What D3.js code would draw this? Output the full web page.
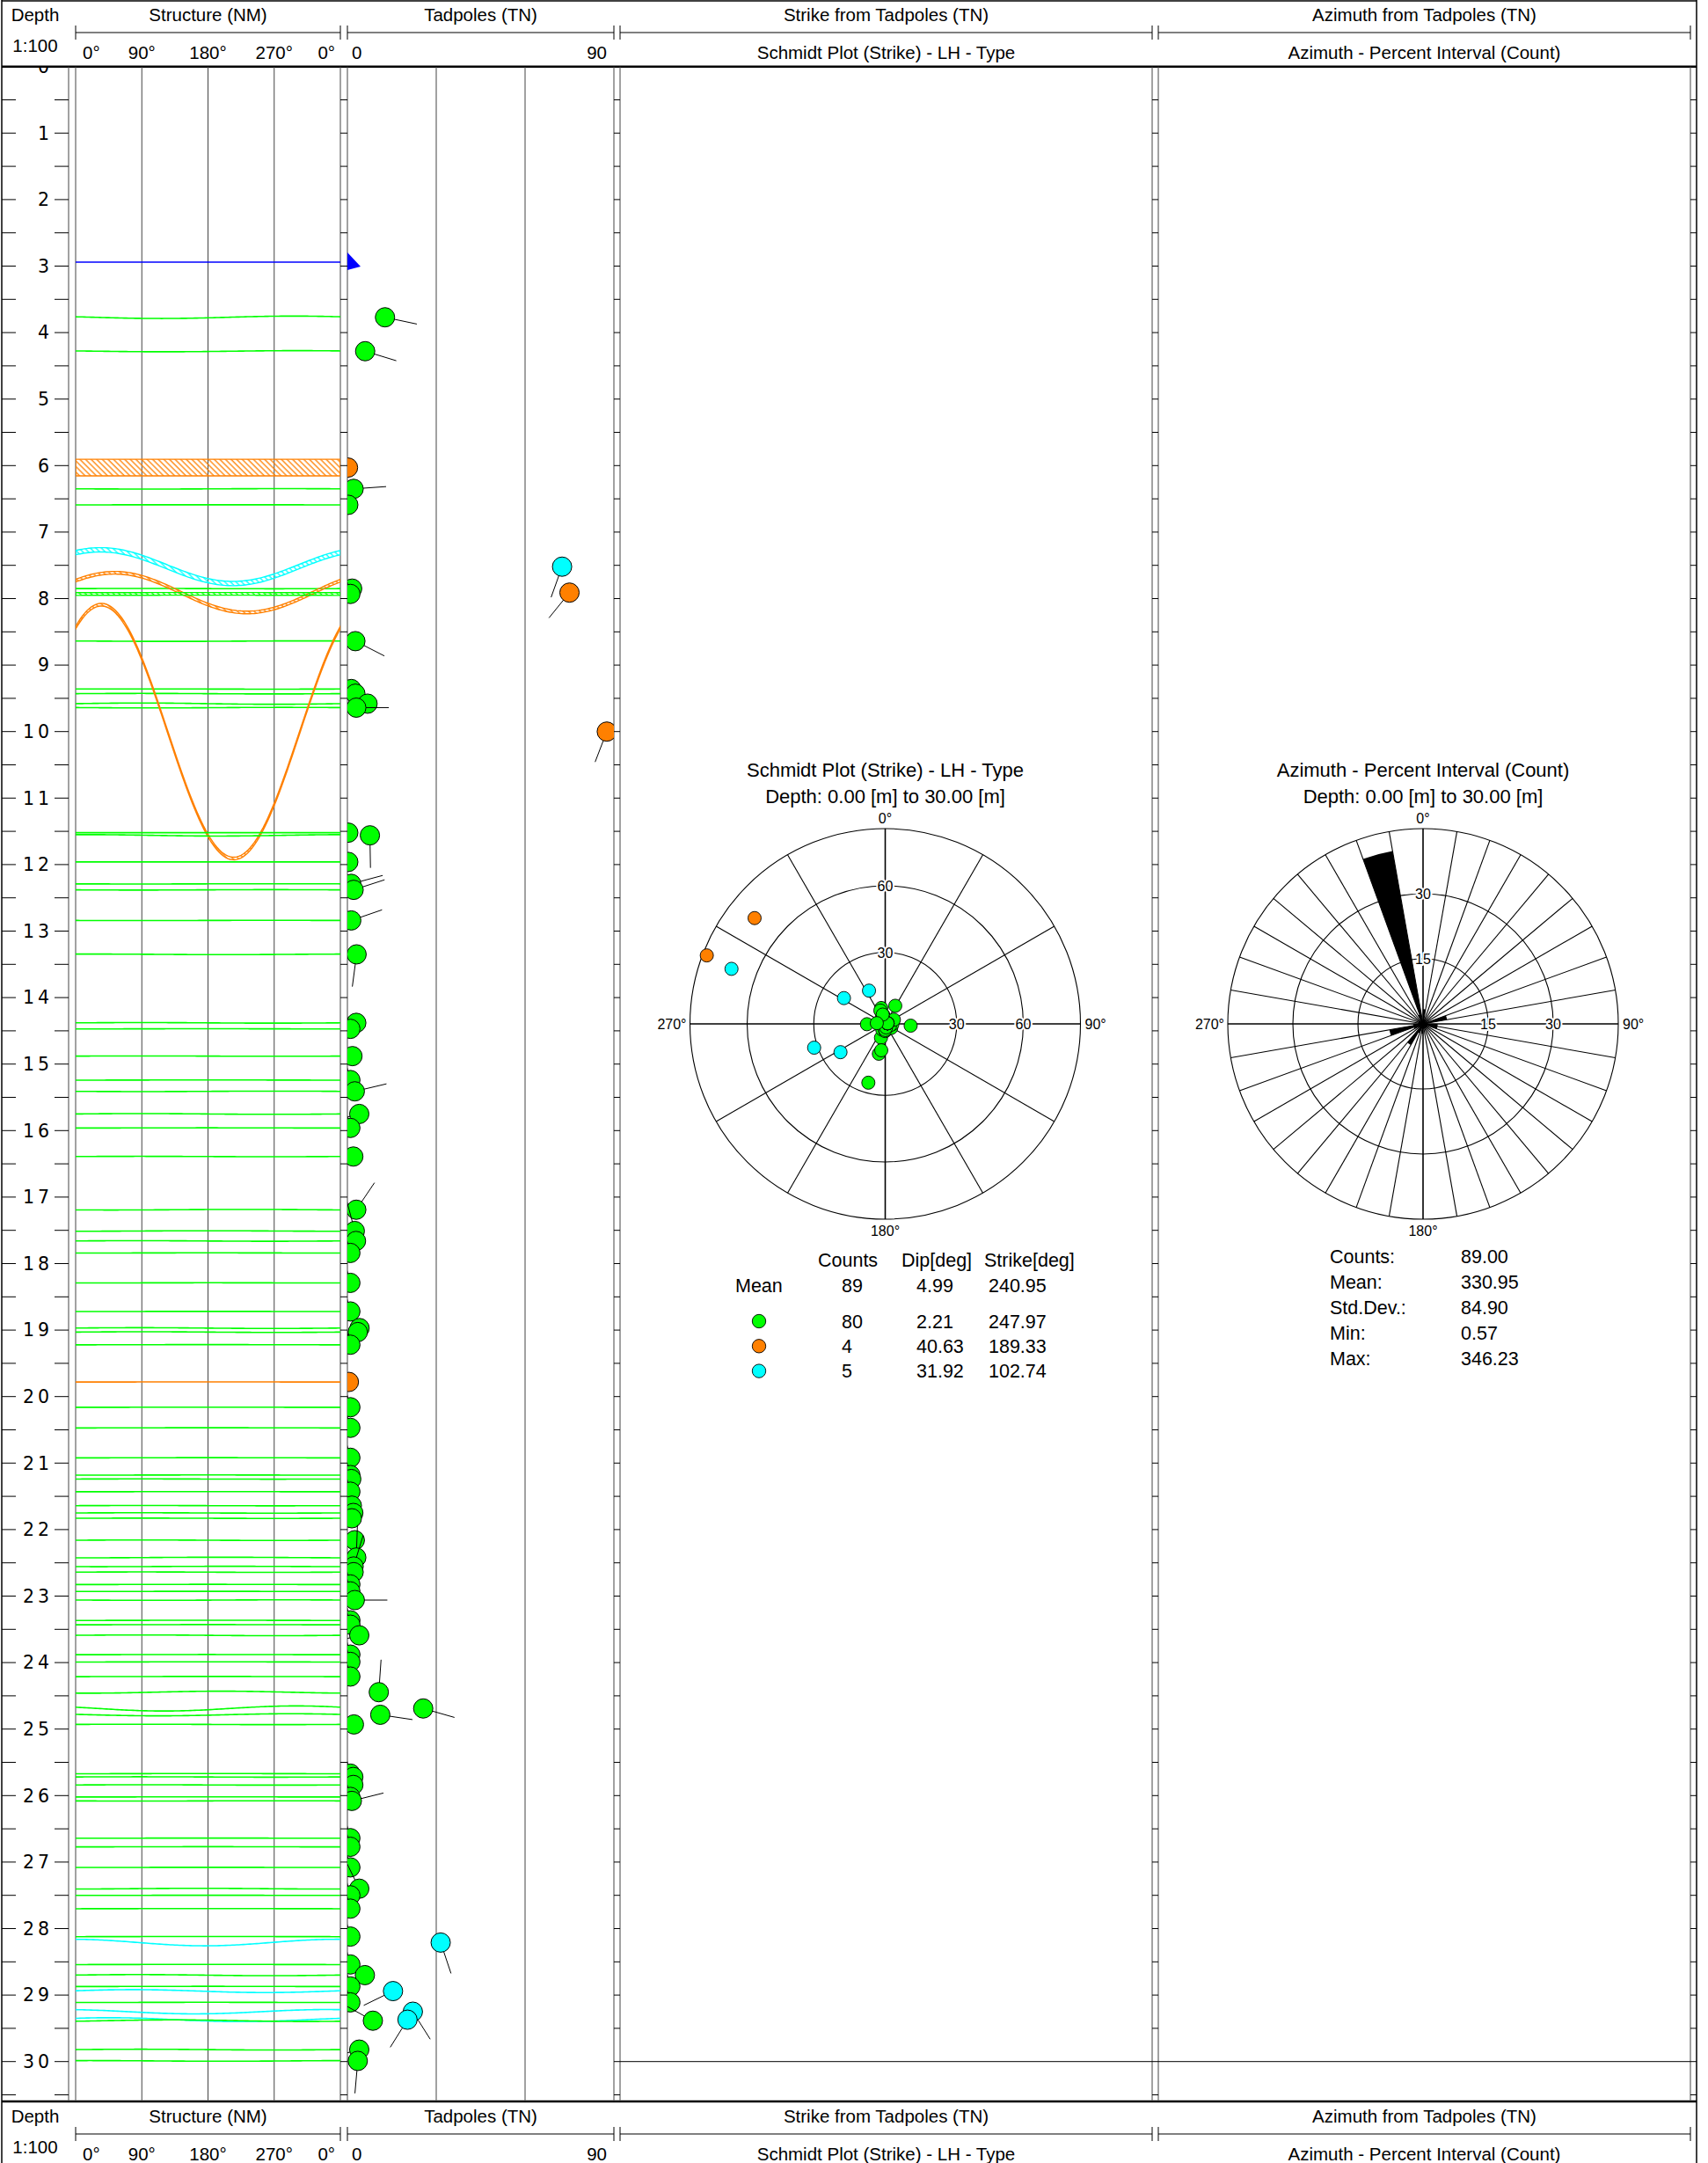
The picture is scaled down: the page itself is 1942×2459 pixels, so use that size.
<!DOCTYPE html>
<html>
<head>
<meta charset="utf-8">
<script src="https://cdn.jsdelivr.net/npm/d3@7/dist/d3.min.js"></script>
<style>
html,body{margin:0;padding:0;background:#fff;}
text{font-family:"Liberation Sans",Arial,sans-serif;fill:#000;}
</style>
</head>
<body>
<svg id="chart" width="1942" height="2459" xmlns="http://www.w3.org/2000/svg"></svg>
<script>
// ================= DATA =================
const depthRange = [0, 30.6];
const depthLabels = [0,1,2,3,4,5,6,7,8,9,10,11,12,13,14,15,16,17,18,19,20,21,22,23,24,25,26,27,28,29,30];
const structureTickValues = [0, 90, 180, 270, 360];
const structureTickLabels = ["0°", "90°", "180°", "270°", "0°"];
const tadpoleTickValues = [0, 90];
const tadpoleTickLabels = ["0", "90"];
const tadpoleGrid = [30, 60];

// tadpoles: depth [m], dip [deg], dip azimuth [deg TN], type
const tadDepth = [3.77,4.28,6.03,6.35,6.59,7.52,7.85,7.91,7.93,8.64,
  9.36,9.43,9.58,9.64,10.0,11.52,11.56,11.96,12.29,12.38,
  12.84,13.35,14.38,14.47,14.88,15.24,15.41,15.75,15.96,16.39,
  17.19,17.51,17.66,17.84,18.29,18.72,18.97,19.03,19.22,19.78,
  20.16,20.47,20.92,21.18,21.24,21.43,21.64,21.75,21.83,22.16,
  22.42,22.555,22.64,22.825,22.93,23.06,23.365,23.43,23.59,23.88,
  23.99,24.21,24.445,24.69,24.785,24.93,25.67,25.72,25.84,26.02,
  26.08,26.64,26.77,27.08,27.40,27.50,27.70,28.12,28.21,28.54,
  28.70,28.87,28.94,29.11,29.25,29.37,29.385,29.82,29.99];
const tadDip = [12.7,6.0,0.2,2.1,0.3,72.5,1.6,75.0,1.0,2.7,
  1.3,2.7,6.8,3.0,87.6,0.3,7.6,0.3,1.3,2.1,
  1.3,3.1,3.0,1.0,1.7,1.0,2.5,4.0,1.0,2.0,
  3.0,2.5,2.9,1.0,1.0,1.0,4.1,3.5,1.0,0.5,
  1.0,1.0,1.0,1.0,1.3,1.0,1.5,2.0,1.5,2.5,
  3.0,2.1,2.1,1.0,1.0,2.5,1.0,1.0,4.0,1.0,
  1.0,1.0,10.6,25.6,11.1,2.2,1.0,2.0,2.0,1.0,
  1.5,1.0,1.0,1.0,4.0,1.0,1.0,1.0,31.5,1.0,
  5.9,1.0,15.4,1.0,22.1,20.3,8.6,4.0,3.5];
const tadAzimuth = [102,107,345,86,345,199.7,255,219,345,117,
  252,255,256,90,201,345,179,345,75,72,
  71,187.5,255,345,258,345,76.7,255,345,252,
  34,345,250,345,345,345,252,258,345,345,
  345,345,345,345,255,345,258,252,255,256,
  2,17,255,345,345,90,345,345,255,345,
  345,345,4,106,98.5,255,345,252,258,345,
  76,345,345,345,334,345,345,345,161.5,345,
  250,345,244,345,147.7,212,299,255,185];
const tadType = ["G","G","O","G","G","C","G","O","G","G",
  "G","G","G","G","O","G","G","G","G","G",
  "G","G","G","G","G","G","G","G","G","G",
  "G","G","G","G","G","G","G","G","G","O",
  "G","G","G","G","G","G","G","G","G","G",
  "G","G","G","G","G","G","G","G","G","G",
  "G","G","G","G","G","G","G","G","G","G",
  "G","G","G","G","G","G","G","G","C","G",
  "G","G","C","G","C","C","G","G","G"];

// thick (aperture) features drawn as hatched bands
const bandDepth = [6.03, 7.52, 7.91, 10.0];
const bandThickness = [0.25, 0.065, 0.04, 0.04];
// marker (blue) depth
const markerDepth = [2.94];

const typeKeys = ["G", "O", "C"];
const typeColors = ["#00ff00", "#ff8000", "#00ffff"];

// Schmidt plot
const schmidtRings = [30, 60];
const schmidtTitle = ["Schmidt Plot (Strike) - LH - Type", "Depth: 0.00 [m] to 30.00 [m]"];
const statHeaders = ["Counts", "Dip[deg]", "Strike[deg]"];
const statMean = ["Mean", "89", "4.99", "240.95"];
const statTypeCounts = ["80", "4", "5"];
const statTypeDip = ["2.21", "40.63", "31.92"];
const statTypeStrike = ["247.97", "189.33", "102.74"];

// Rose diagram (10 degree sectors, counts)
const roseSectors = [0,10,20,30,40,50,60,70,80,90,100,110,120,130,140,150,160,170,
  180,190,200,210,220,230,240,250,260,270,280,290,300,310,320,330,340,350];
const roseCounts = [3,1,0,1,0,0,0,5,1,3, 3,1,1,1,1,0,1,1,2,1, 2,5,1,1,2,7,2,1,1,1, 1,0,1,2,36,0];
const roseRings = [15, 30];
const roseMaxPercent = 45;
const roseTitle = ["Azimuth - Percent Interval (Count)", "Depth: 0.00 [m] to 30.00 [m]"];
const azStatLabels = ["Counts:", "Mean:", "Std.Dev.:", "Min:", "Max:"];
const azStatValues = ["89.00", "330.95", "84.90", "0.57", "346.23"];

const compassLabels = ["0°", "90°", "180°", "270°"];

// ================= LAYOUT =================
const svg = d3.select("#chart");
const W = 1942, H = 2459;
const headerH = 75.7, pxPerMeter = 75.6;
const y = d3.scaleLinear().domain(depthRange).range([headerH, headerH + (depthRange[1] - depthRange[0]) * pxPerMeter]);
const trackTop = y(depthRange[0]), trackBot = y(depthRange[1]);
const col = {depth: [2, 78], struct: [86, 387], tad: [395, 698], strike: [705, 1310], azi: [1317, 1922]};
const rightEdge = 1929;
const xS = d3.scaleLinear().domain([0, 360]).range(col.struct);
const xT = d3.scaleLinear().domain([0, 90]).range(col.tad);
const color = t => typeColors[typeKeys.indexOf(t)];
const boreRadius = 0.08, declination = 14, tailLen = 37, tadR = 11;
const rad = a => a * Math.PI / 180;

const defs = svg.append("defs");
typeKeys.forEach((k, i) => {
  const p = defs.append("pattern").attr("id", "hatch" + k).attr("patternUnits", "userSpaceOnUse")
    .attr("width", 4.5).attr("height", 4.5).attr("patternTransform", "rotate(-45)");
  p.append("line").attr("x1", 1).attr("y1", 0).attr("x2", 1).attr("y2", 4.5)
    .attr("stroke", typeColors[i]).attr("stroke-width", 1.3);
});
function clip(id, x0, x1, y0, y1) {
  defs.append("clipPath").attr("id", id).append("rect")
    .attr("x", x0).attr("y", y0).attr("width", x1 - x0).attr("height", y1 - y0);
}
clip("clipD", 0, col.depth[1], trackTop, trackBot);
clip("clipS", col.struct[0], col.struct[1], trackTop, trackBot);
clip("clipT", col.tad[0], col.tad[1], trackTop, trackBot);

// ---------- frame ----------
const frame = svg.append("g").attr("stroke", "#000").attr("fill", "none");
frame.append("line").attr("x1", 2).attr("x2", 2).attr("y1", 0).attr("y2", H).attr("stroke-width", 1.5);
frame.append("line").attr("x1", rightEdge).attr("x2", rightEdge).attr("y1", 0).attr("y2", H).attr("stroke-width", 1.5);
frame.append("line").attr("x1", 2).attr("x2", rightEdge).attr("y1", 1).attr("y2", 1).attr("stroke-width", 1.5);
frame.append("line").attr("x1", 2).attr("x2", rightEdge).attr("y1", trackTop).attr("y2", trackTop).attr("stroke-width", 2.5);
frame.append("line").attr("x1", 2).attr("x2", rightEdge).attr("y1", trackBot).attr("y2", trackBot).attr("stroke-width", 2.5);

const borders = svg.append("g").attr("stroke", "#444").attr("stroke-width", 1);
[col.depth[1], col.struct[0], col.struct[1], col.tad[0], col.tad[1], col.strike[0], col.strike[1], col.azi[0], col.azi[1]]
  .forEach(x => borders.append("line").attr("x1", x).attr("x2", x).attr("y1", trackTop).attr("y2", trackBot));

// half-metre ticks
const halfTicks = y.ticks(62).filter(d => d > 0 && d < depthRange[1]);
const tickG = svg.append("g").attr("stroke", "#000").attr("stroke-width", 1);
halfTicks.forEach(d => {
  tickG.append("line").attr("x1", 2).attr("x2", 18).attr("y1", y(d)).attr("y2", y(d));
  tickG.append("line").attr("x1", 62).attr("x2", col.depth[1]).attr("y1", y(d)).attr("y2", y(d));
  [[col.struct[1], col.tad[0]], [col.tad[1], col.strike[0]], [col.strike[1], col.azi[0]], [col.azi[1], rightEdge]]
    .forEach(g => tickG.append("line").attr("x1", g[0]).attr("x2", g[1]).attr("y1", y(d)).attr("y2", y(d)));
});
// depth labels
const dl = svg.append("g").attr("clip-path", "url(#clipD)");
depthLabels.forEach(d => dl.append("text").attr("x", 60).attr("y", y(d)).attr("dy", "0.36em")
  .attr("text-anchor", "end").style("font-family", "'DejaVu Sans',sans-serif").style("font-size", "20.5px")
  .style("letter-spacing", "4px").text(d));

// depth 30 line in strike / azimuth columns
[col.strike, col.azi].forEach(c => svg.append("line").attr("x1", c[0]).attr("x2", c[1])
  .attr("y1", y(30)).attr("y2", y(30)).attr("stroke", "#000").attr("stroke-width", 1));

// ---------- headers ----------
function header(y0) {
  const g = svg.append("g").attr("transform", `translate(0,${y0})`);
  const t = (x, yy, s, anchor) => g.append("text").attr("x", x).attr("y", yy).attr("text-anchor", anchor || "middle")
    .style("font-size", "20.5px").text(s);
  t(40, 23.5, "Depth");
  t(40, 59, "1:100");
  t((col.struct[0] + col.struct[1]) / 2, 23.5, "Structure (NM)");
  t((col.tad[0] + col.tad[1]) / 2, 23.5, "Tadpoles (TN)");
  t((col.strike[0] + col.strike[1]) / 2, 23.5, "Strike from Tadpoles (TN)");
  t((col.azi[0] + col.azi[1]) / 2, 23.5, "Azimuth from Tadpoles (TN)");
  t((col.strike[0] + col.strike[1]) / 2, 67, "Schmidt Plot (Strike) - LH - Type");
  t((col.azi[0] + col.azi[1]) / 2, 67, "Azimuth - Percent Interval (Count)");
  [col.struct, col.tad, col.strike, col.azi].forEach(c => {
    g.append("line").attr("x1", c[0]).attr("x2", c[1]).attr("y1", 37).attr("y2", 37).attr("stroke", "#000");
    [c[0], c[1]].forEach(x => g.append("line").attr("x1", x).attr("x2", x).attr("y1", 29).attr("y2", 45).attr("stroke", "#000"));
  });
  structureTickValues.forEach((v, i) => {
    const last = i === structureTickValues.length - 1;
    const x = i === 0 ? xS(v) + 8 : last ? xS(v) - 6 : xS(v);
    t(x, 67, structureTickLabels[i], i === 0 ? "start" : last ? "end" : "middle");
  });
  tadpoleTickValues.forEach((v, i) => t(i === 0 ? xT(v) + 5 : xT(v) - 8, 67, tadpoleTickLabels[i], i === 0 ? "start" : "end"));
}
header(0);
header(2389);

// ---------- structure track ----------
const gS = svg.append("g").attr("clip-path", "url(#clipS)");
[90, 180, 270].forEach(v => gS.append("line").attr("x1", xS(v)).attr("x2", xS(v))
  .attr("y1", trackTop).attr("y2", trackBot).attr("stroke", "#444"));
markerDepth.forEach(d => gS.append("line").attr("x1", col.struct[0]).attr("x2", col.struct[1])
  .attr("y1", y(d)).attr("y2", y(d)).attr("stroke", "#0000ff").attr("stroke-width", 1.6));
const phis = d3.range(0, 361, 3);
tadDepth.forEach((d, i) => {
  const A = boreRadius * Math.tan(rad(tadDip[i]));
  const azNM = tadAzimuth[i] + declination;
  const curve = dd => phis.map(p => [xS(p), y(dd + A * Math.cos(rad(p - azNM)))]);
  const bi = bandDepth.findIndex(b => Math.abs(b - d) < 0.02);
  const c = color(tadType[i]);
  if (bi >= 0) {
    const h = bandThickness[bi] / 2;
    const up = curve(d - h), lo = curve(d + h).reverse();
    gS.append("path").attr("d", d3.line()(up.concat(lo)) + "Z")
      .attr("fill", `url(#hatch${tadType[i]})`).attr("stroke", c).attr("stroke-width", 1.4);
  } else {
    gS.append("path").attr("d", d3.line()(curve(d))).attr("fill", "none").attr("stroke", c).attr("stroke-width", 1.6);
  }
});

// ---------- tadpole track ----------
const gT = svg.append("g").attr("clip-path", "url(#clipT)");
tadpoleGrid.forEach(v => gT.append("line").attr("x1", xT(v)).attr("x2", xT(v))
  .attr("y1", trackTop).attr("y2", trackBot).attr("stroke", "#444"));
markerDepth.forEach(d => {
  const x0 = xT(0), yy = y(d);
  gT.append("path").attr("d", d3.line()([[x0, yy - 11], [x0 + 15, yy + 5], [x0, yy + 9]]) + "Z").attr("fill", "#0000ff");
});
tadDepth.forEach((d, i) => {
  const cx = xT(tadDip[i]), cy = y(d), a = rad(tadAzimuth[i]);
  const g = gT.append("g");
  g.append("line").attr("x1", cx).attr("y1", cy).attr("x2", cx + tailLen * Math.sin(a)).attr("y2", cy - tailLen * Math.cos(a))
    .attr("stroke", "#000").attr("stroke-width", 1);
  g.append("circle").attr("cx", cx).attr("cy", cy).attr("r", tadR)
    .attr("fill", color(tadType[i])).attr("stroke", "#000").attr("stroke-width", 1);
});

// ---------- Schmidt plot ----------
const sc = {x: 1006.5, y: 1164, R: 222};
const schR = dip => sc.R * Math.SQRT2 * Math.sin(rad(dip / 2));
const gP = svg.append("g");
schmidtTitle.forEach((s, i) => gP.append("text").attr("x", sc.x).attr("y", 883 + i * 30)
  .attr("text-anchor", "middle").style("font-size", "22px").text(s));
schmidtRings.concat([90]).forEach(v => gP.append("circle").attr("cx", sc.x).attr("cy", sc.y).attr("r", schR(v))
  .attr("fill", "none").attr("stroke", "#000").attr("stroke-width", 1.1));
d3.range(0, 360, 30).forEach(a => gP.append("line").attr("x1", sc.x).attr("y1", sc.y)
  .attr("x2", sc.x + sc.R * Math.sin(rad(a))).attr("y2", sc.y - sc.R * Math.cos(rad(a)))
  .attr("stroke", "#000").attr("stroke-width", a % 90 === 0 ? 1.6 : 1.1));
const halo = sel => sel.attr("paint-order", "stroke").attr("stroke", "#fff").attr("stroke-width", 4).attr("stroke-linejoin", "round");
schmidtRings.forEach(v => {
  halo(gP.append("text").attr("x", sc.x).attr("y", sc.y - schR(v)).attr("dy", "0.36em").attr("text-anchor", "middle")
    .style("font-size", "16px").text(v));
  halo(gP.append("text").attr("x", sc.x + schR(v)).attr("y", sc.y).attr("dy", "0.36em").attr("text-anchor", "middle")
    .style("font-size", "16px").text(v));
});
function compass(g, c, R) {
  g.append("text").attr("x", c.x).attr("y", c.y - R - 6).attr("text-anchor", "middle").style("font-size", "16px").text(compassLabels[0]);
  g.append("text").attr("x", c.x + R + 5).attr("y", c.y + 6).attr("text-anchor", "start").style("font-size", "16px").text(compassLabels[1]);
  g.append("text").attr("x", c.x).attr("y", c.y + R + 19).attr("text-anchor", "middle").style("font-size", "16px").text(compassLabels[2]);
  g.append("text").attr("x", c.x - R - 4).attr("y", c.y + 6).attr("text-anchor", "end").style("font-size", "16px").text(compassLabels[3]);
}
compass(gP, sc, sc.R);
tadDepth.forEach((d, i) => {
  const th = rad(tadAzimuth[i] + 90), r = schR(tadDip[i]);
  gP.append("circle").attr("cx", sc.x + r * Math.sin(th)).attr("cy", sc.y - r * Math.cos(th)).attr("r", 7.5)
    .attr("fill", color(tadType[i])).attr("stroke", "#000").attr("stroke-width", 0.9);
});
// stats table
const st = (x, yy, s) => gP.append("text").attr("x", x).attr("y", yy).style("font-size", "21.5px").text(s);
[930, 1025, 1119].forEach((x, i) => st(x, 1440, statHeaders[i]));
[836, 957, 1042, 1124].forEach((x, i) => st(x, 1469, statMean[i]));
typeKeys.forEach((k, i) => {
  const yy = 1502 + i * 28.3;
  gP.append("circle").attr("cx", 863).attr("cy", yy).attr("r", 7.7).attr("fill", typeColors[i]).attr("stroke", "#000").attr("stroke-width", 0.9);
  st(957, yy + 7.8, statTypeCounts[i]);
  st(1042, yy + 7.8, statTypeDip[i]);
  st(1124, yy + 7.8, statTypeStrike[i]);
});

// ---------- Rose diagram ----------
const rc = {x: 1618, y: 1164, R: 222};
const rr = d3.scaleLinear().domain([0, roseMaxPercent]).range([0, rc.R]);
const total = d3.sum(roseCounts);
const gR = svg.append("g");
roseTitle.forEach((s, i) => gR.append("text").attr("x", rc.x).attr("y", 883 + i * 30)
  .attr("text-anchor", "middle").style("font-size", "22px").text(s));
roseRings.concat([roseMaxPercent]).forEach(v => gR.append("circle").attr("cx", rc.x).attr("cy", rc.y).attr("r", rr(v))
  .attr("fill", "none").attr("stroke", "#000").attr("stroke-width", 1.1));
roseSectors.forEach(a => gR.append("line").attr("x1", rc.x).attr("y1", rc.y)
  .attr("x2", rc.x + rc.R * Math.sin(rad(a))).attr("y2", rc.y - rc.R * Math.cos(rad(a)))
  .attr("stroke", "#000").attr("stroke-width", a % 90 === 0 ? 1.6 : 1.1));
const arc = d3.arc().innerRadius(0);
roseSectors.forEach((a, i) => {
  if (!roseCounts[i]) return;
  gR.append("path").attr("transform", `translate(${rc.x},${rc.y})`)
    .attr("d", arc({outerRadius: rr(roseCounts[i] / total * 100), startAngle: rad(a), endAngle: rad(a + 10)}))
    .attr("fill", "#000");
});
roseRings.forEach(v => {
  halo(gR.append("text").attr("x", rc.x).attr("y", rc.y - rr(v)).attr("dy", "0.36em").attr("text-anchor", "middle")
    .style("font-size", "16px").text(v));
  halo(gR.append("text").attr("x", rc.x + rr(v)).attr("y", rc.y).attr("dy", "0.36em").attr("text-anchor", "middle")
    .style("font-size", "16px").text(v));
});
compass(gR, rc, rc.R);
azStatLabels.forEach((s, i) => {
  const yy = 1436 + i * 28.9;
  gR.append("text").attr("x", 1512).attr("y", yy).style("font-size", "21.5px").text(s);
  gR.append("text").attr("x", 1661).attr("y", yy).style("font-size", "21.5px").text(azStatValues[i]);
});
</script>
</body>
</html>
